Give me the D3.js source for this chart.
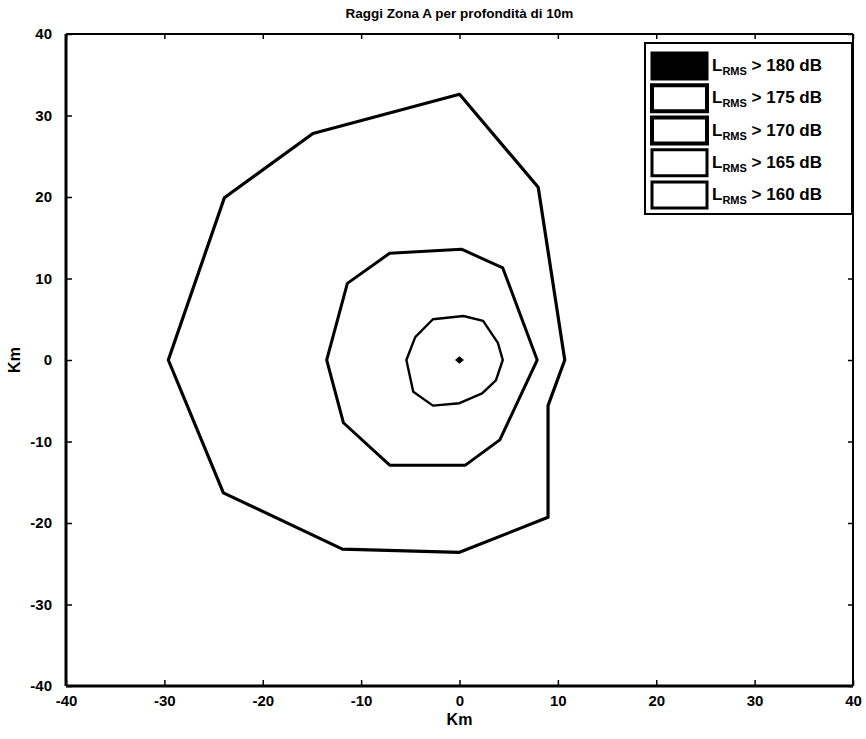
<!DOCTYPE html>
<html>
<head>
<meta charset="utf-8">
<script src="https://cdn.jsdelivr.net/npm/d3@7"></script>
<style>
  html, body { margin: 0; padding: 0; background: #fff; }
  svg { display: block; }
  text { font-family: "Liberation Sans", Arial, sans-serif; fill: #000; }
</style>
</head>
<body>
<svg id="chart" width="866" height="739"></svg>
<script>
// Axis range and ticks (km)
const xDomain = [-40, 40];
const yDomain = [-40, 40];
const tickValues = [-40, -30, -20, -10, 0, 10, 20, 30, 40];

// Sound level thresholds shown in the legend (dB)
const levels = [180, 175, 170, 165, 160];

// Contour outlines per threshold, as [x km, y km] vertices
const contour180 = [[0.4, 0], [0, 0.4], [-0.4, 0], [0, -0.4]];
const contour175 = [[0.4, 5.4], [2.4, 4.8], [3.9, 2.1], [4.4, 0], [3.7, -2.5], [2.3, -4.1],
                    [0, -5.3], [-2.7, -5.6], [-4.7, -3.9], [-5.4, 0], [-4.5, 2.8], [-2.7, 5.0]];
const contour170 = [[0.2, 13.6], [4.4, 11.3], [7.9, 0], [4.1, -9.8], [0.6, -12.9], [-7.1, -12.9],
                    [-11.8, -7.7], [-13.5, 0], [-11.4, 9.4], [-7.1, 13.1]];
const contour165 = [[0, 32.6], [8.0, 21.2], [10.7, 0], [9.0, -5.6], [9.0, -19.3], [0, -23.6],
                    [-11.9, -23.2], [-24.0, -16.3], [-29.6, 0], [-23.9, 19.9], [-14.9, 27.8]];
const contour160 = [];

const contours = [contour180, contour175, contour170, contour165, contour160];
const swatchFill = ["#000", "#fff", "#fff", "#fff", "#fff"];
const swatchStroke = [3, 4, 4, 3, 3];
const lineWidth = [1, 2.4, 3, 3.2, 3];

const titleText = "Raggi Zona A per profondità di 10m";
const axisLabel = "Km";

const svg = d3.select("#chart");
const pL = 66, pR = 853, pT = 34, pB = 686;

const x = d3.scaleLinear().domain(xDomain).range([pL, pR]);
const y = d3.scaleLinear().domain(yDomain).range([pB, pT]);

// Contours
const line = d3.line().x(d => x(d[0])).y(d => y(d[1])).curve(d3.curveLinearClosed);
const g = svg.append("g");
contours.forEach((pts, i) => {
  if (!pts.length) return;
  g.append("path")
    .attr("d", line(pts))
    .attr("fill", i === 0 ? "#000" : "none")
    .attr("stroke", "#000")
    .attr("stroke-width", lineWidth[i])
    .attr("stroke-linejoin", "round");
});

// Axes with inward ticks, plain hyphen minus signs
const fmt = d => String(d);
function styleAxis(sel, showLabels) {
  sel.select(".domain").remove();
  sel.selectAll(".tick line").attr("stroke", "#000").attr("stroke-width", 1.5);
  sel.selectAll(".tick text")
    .style("font-size", "15px").style("font-weight", "bold");
  if (!showLabels) sel.selectAll(".tick text").remove();
}

const gx = svg.append("g").attr("transform", `translate(0,${pB})`)
  .call(d3.axisBottom(x).tickValues(tickValues).tickFormat(fmt)
    .tickSizeInner(-6).tickSizeOuter(0).tickPadding(9));
styleAxis(gx, true);

const gy = svg.append("g").attr("transform", `translate(${pL},0)`)
  .call(d3.axisLeft(y).tickValues(tickValues).tickFormat(fmt)
    .tickSizeInner(-6).tickSizeOuter(0).tickPadding(14));
styleAxis(gy, true);

const gt = svg.append("g").attr("transform", `translate(0,${pT})`)
  .call(d3.axisTop(x).tickValues(tickValues).tickSizeInner(-5).tickSizeOuter(0));
styleAxis(gt, false);

const gr = svg.append("g").attr("transform", `translate(${pR},0)`)
  .call(d3.axisRight(y).tickValues(tickValues).tickSizeInner(-5).tickSizeOuter(0));
styleAxis(gr, false);

// Frame
svg.append("line").attr("x1", pL).attr("x2", pL).attr("y1", pT).attr("y2", pB)
  .attr("stroke", "#000").attr("stroke-width", 3);
svg.append("line").attr("x1", pL).attr("x2", pR).attr("y1", pB).attr("y2", pB)
  .attr("stroke", "#000").attr("stroke-width", 3);
svg.append("line").attr("x1", pL).attr("x2", pR).attr("y1", pT).attr("y2", pT)
  .attr("stroke", "#000").attr("stroke-width", 2);
svg.append("line").attr("x1", pR).attr("x2", pR).attr("y1", pT).attr("y2", pB)
  .attr("stroke", "#000").attr("stroke-width", 2);

// Title and axis labels
svg.append("text").attr("x", (pL + pR) / 2).attr("y", 18)
  .attr("text-anchor", "middle").style("font-size", "13.5px").style("font-weight", "bold")
  .text(titleText);
svg.append("text").attr("x", (pL + pR) / 2).attr("y", 725)
  .attr("text-anchor", "middle").style("font-size", "16px").style("font-weight", "bold")
  .text(axisLabel);
svg.append("text").attr("transform", `translate(20,${y(0)}) rotate(-90)`)
  .attr("text-anchor", "middle").style("font-size", "16px").style("font-weight", "bold")
  .text(axisLabel);

// Legend
const lg = svg.append("g");
lg.append("rect").attr("x", 645).attr("y", 43).attr("width", 207).attr("height", 171)
  .attr("fill", "#fff").attr("stroke", "#000").attr("stroke-width", 2);
const rowY = d3.scalePoint().domain(levels).range([66, 195]);
levels.forEach((lv, i) => {
  const cy = rowY(lv);
  lg.append("rect").attr("x", 652).attr("y", cy - 13).attr("width", 55).attr("height", 26)
    .attr("fill", swatchFill[i]).attr("stroke", "#000").attr("stroke-width", swatchStroke[i]);
  const t = lg.append("text").attr("x", 712).attr("y", cy + 5)
    .style("font-size", "17px").style("font-weight", "bold");
  t.append("tspan").text("L");
  t.append("tspan").attr("dy", 4).style("font-size", "11px").text("RMS");
  t.append("tspan").attr("dy", -4).text(` > ${lv} dB`);
});
</script>
</body>
</html>
